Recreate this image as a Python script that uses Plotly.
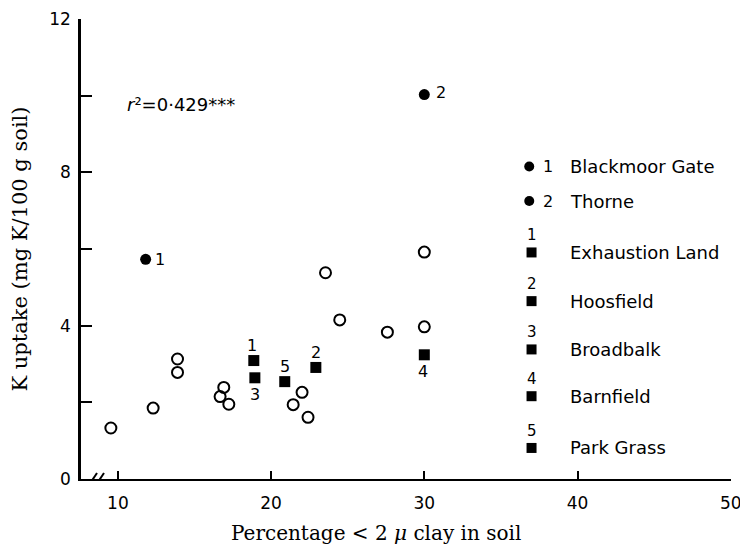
import plotly.graph_objects as go

# ---- data ----
x_open = [9.54, 12.30, 13.89, 13.89, 16.67, 16.91, 17.24, 21.44, 22.02, 22.41, 23.55, 24.48, 27.59, 30.0, 30.0, 50.7]
y_open = [1.33, 1.85, 3.13, 2.78, 2.15, 2.39, 1.95, 1.94, 2.26, 1.61, 5.38, 4.15, 3.83, 3.97, 5.92, 9.6]

fill_sites = ["Blackmoor Gate", "Thorne"]
fill_nums = ["1", "2"]
x_fill = [11.81, 30.0]
y_fill = [5.73, 10.03]

sq_sites = ["Exhaustion Land", "Hoosfield", "Broadbalk", "Barnfield", "Park Grass"]
sq_nums = ["1", "2", "3", "4", "5"]
x_sq = [18.87, 22.92, 18.94, 30.0, 20.89]
y_sq = [3.09, 2.91, 2.64, 3.24, 2.54]

x_tickvals = [10, 20, 30, 40, 50]
y_tickvals = [0, 2, 4, 6, 8, 10, 12]
y_ticktext = ["0", "", "4", "", "8", "", "12"]

r2_text = "<i>r</i>²=0·429***"
x_title = "Percentage &lt; 2 <i>μ</i> clay in soil"
y_title = "K uptake (mg K/100 g soil)"

SANS = "DejaVu Sans"
SERIF = "DejaVu Serif"

fig = go.Figure()
fig.add_trace(go.Scatter(x=x_open, y=y_open, mode="markers", cliponaxis=False,
                         marker=dict(symbol="circle-open", size=11, color="black", line=dict(width=2, color="black")),
                         showlegend=False, hoverinfo="x+y"))
fig.add_trace(go.Scatter(x=x_fill, y=y_fill, mode="markers", text=fill_sites, cliponaxis=False,
                         marker=dict(symbol="circle", size=11, color="black"),
                         showlegend=False))
fig.add_trace(go.Scatter(x=x_sq, y=y_sq, mode="markers", text=sq_sites, cliponaxis=False,
                         marker=dict(symbol="square", size=11, color="black"),
                         showlegend=False))

annots = []
# point number labels
fill_shift = [(14, 0), (17, 2)]
for xv, yv, n, (dx, dy) in zip(x_fill, y_fill, fill_nums, fill_shift):
    annots.append(dict(x=xv, y=yv, text=n, showarrow=False, xshift=dx, yshift=dy,
                       font=dict(family=SANS, size=16, color="black")))
sq_shift = {"1": (-2, 15), "2": (0, 15), "3": (0, -17), "4": (-1, -17), "5": (0, 15)}
for xv, yv, n in zip(x_sq, y_sq, sq_nums):
    dx, dy = sq_shift[n]
    annots.append(dict(x=xv, y=yv, text=n, showarrow=False, xshift=dx, yshift=dy,
                       font=dict(family=SANS, size=16, color="black")))

annots.append(dict(x=(125 - 81) / 650.5, y=(479.3 - 105) / 460.3, xref="paper", yref="paper",
                   xanchor="left", yanchor="middle",
                   text=r2_text, showarrow=False, font=dict(family=SANS, size=18, color="black")))

# x-axis title (placed as in the original, left of centre)
annots.append(dict(x=(376 - 81) / 650.5, y=-(533 - 479.3) / 460.3, xref="paper", yref="paper",
                   xanchor="center", yanchor="middle", text=x_title, showarrow=False,
                   font=dict(family=SERIF, size=20, color="black")))

# legend (drawn by hand to mimic the original key)
shapes = []
leg_x_mark = 36.85
leg_x_num = 38.05
leg_x_text = 39.35
leg_y_circ = [8.15, 7.25]
leg_y_sq = [5.91, 4.64, 3.38, 2.16, 0.81]
for n, name, yv in zip(fill_nums, fill_sites, leg_y_circ):
    shapes.append(dict(type="circle", xref="x", yref="y", xsizemode="pixel", ysizemode="pixel",
                       xanchor=leg_x_mark, yanchor=yv, x0=-5, x1=5, y0=-5, y1=5,
                       fillcolor="black", line=dict(width=0)))
    annots.append(dict(x=leg_x_num, y=yv, text=n, showarrow=False, xanchor="center",
                       font=dict(family=SANS, size=16, color="black")))
    annots.append(dict(x=leg_x_text, y=yv, text=name, showarrow=False, xanchor="left",
                       font=dict(family=SANS, size=18, color="black")))
for n, name, yv in zip(sq_nums, sq_sites, leg_y_sq):
    shapes.append(dict(type="rect", xref="x", yref="y", xsizemode="pixel", ysizemode="pixel",
                       xanchor=leg_x_mark + 0.15, yanchor=yv, x0=-5, x1=5, y0=-5, y1=5,
                       fillcolor="black", line=dict(width=0)))
    annots.append(dict(x=leg_x_mark + 0.15, y=yv, text=n, showarrow=False, yshift=17,
                       font=dict(family=SANS, size=15, color="black")))
    annots.append(dict(x=leg_x_text, y=yv, text=name, showarrow=False, xanchor="left",
                       font=dict(family=SANS, size=18, color="black")))

# axis break marks "//"
x_axis_start = 7.59
shapes.append(dict(type="rect", xref="x", yref="y", xsizemode="pixel", ysizemode="pixel",
                   xanchor=x_axis_start, yanchor=0, x0=11, x1=21, y0=-3, y1=3,
                   fillcolor="white", line=dict(width=0), layer="above"))
for off in (8, 15):
    shapes.append(dict(type="line", xref="x", yref="y", xsizemode="pixel", ysizemode="pixel",
                       xanchor=x_axis_start, yanchor=0, x0=off, x1=off + 8, y0=-6, y1=6,
                       line=dict(color="black", width=2), layer="above"))

fig.update_layout(
    width=740, height=549,
    margin=dict(l=81, r=8.5, t=19, b=70),
    paper_bgcolor="white", plot_bgcolor="white",
    annotations=annots, shapes=shapes,
    showlegend=False,
    xaxis=dict(range=[x_axis_start, 50.02], tickvals=x_tickvals, ticks="inside", ticklen=8, tickwidth=2,
               tickcolor="black", showline=True, linecolor="black", linewidth=2, showgrid=False,
               zeroline=False, automargin=False, ticklabeloverflow="allow", ticklabelstandoff=8,
               tickfont=dict(family=SANS, size=17, color="black")),
    yaxis=dict(range=[0, 12], tickvals=y_tickvals, ticktext=y_ticktext, ticks="inside", ticklen=11,
               tickwidth=2, tickcolor="black", showline=True, linecolor="black", linewidth=2.5,
               showgrid=False, zeroline=False, ticklabelstandoff=4, automargin=False,
               ticklabeloverflow="allow",
               tickfont=dict(family=SANS, size=17, color="black"),
               title=dict(text=y_title, standoff=16,
                          font=dict(family=SERIF, size=21, color="black"))),
)

fig.write_html("out.html", config={"displayModeBar": False},
               post_script="document.body.style.margin='0px';")
